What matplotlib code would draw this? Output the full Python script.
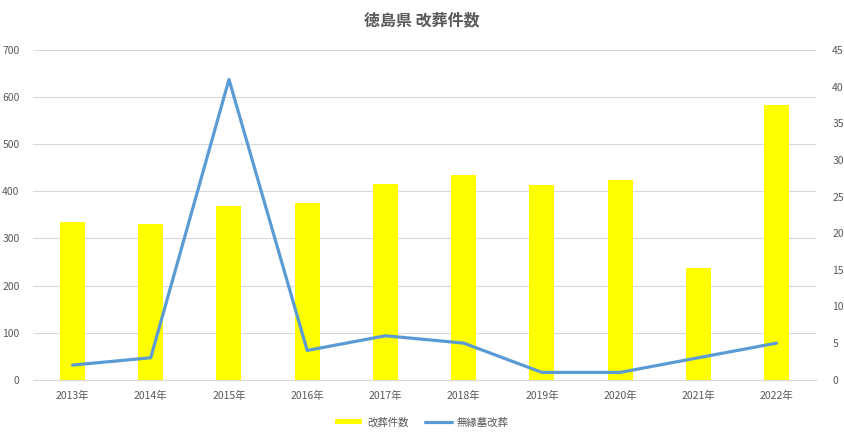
import matplotlib
matplotlib.use("Agg")
import matplotlib.pyplot as plt
import numpy as np

years = ["2013年", "2014年", "2015年", "2016年", "2017年", "2018年", "2019年", "2020年", "2021年", "2022年"]
kaisou = [335, 330, 368, 375, 416, 434, 414, 424, 237, 584]
muenbo = [2, 3, 41, 4, 6, 5, 1, 1, 3, 5]

plt.rcParams['font.family'] = ['Noto Sans CJK JP', 'DejaVu Sans']

fig = plt.figure(figsize=(8.44, 4.40), dpi=100)
ax = fig.add_axes([0.0396, 0.137, 0.9268, 0.749])
ax2 = ax.twinx()

x = np.arange(len(years))
bars = ax.bar(x, kaisou, width=0.32, color='#FFFF00', label='改葬件数', zorder=2)
line, = ax2.plot(x, muenbo, color='#5B9BD5', linewidth=2.3, label='無縁墓改葬',
                 solid_capstyle='round', zorder=3)

ax.set_xlim(-0.5, len(years) - 0.5)
ax.set_ylim(0, 700)
ax.set_yticks(range(0, 701, 100))
ax2.set_ylim(0, 45)
ax2.set_yticks(range(0, 46, 5))

ax.set_xticks(x)
ax.set_xticklabels(years)
ax.grid(axis='y', color='#D9D9D9', linewidth=0.8, zorder=0)
ax.set_axisbelow(True)

for a in (ax, ax2):
    for s in a.spines.values():
        s.set_visible(False)
    a.tick_params(length=0, labelsize=7.5, colors='#595959')
ax.spines['bottom'].set_visible(True)
ax.spines['bottom'].set_color('#D9D9D9')
ax.tick_params(axis='x', pad=8)
ax.tick_params(axis='y', pad=10)
ax2.tick_params(axis='y', pad=12)

# put the twin axes behind so bars stay under the line
ax2.set_zorder(ax.get_zorder() + 1)

fig.text(0.5, 0.955, '徳島県 改葬件数', ha='center', va='center',
         fontsize=11.5, fontweight='bold', color='#595959')

fig.legend(handles=[bars, line], labels=['改葬件数', '無縁墓改葬'],
           loc='center', bbox_to_anchor=(0.5, 0.04), ncol=2, frameon=False,
           fontsize=7.5, labelcolor='#595959', handlelength=2.6,
           handleheight=0.4, columnspacing=1.5, handletextpad=0.5)

fig.savefig("out.png", dpi=100)
